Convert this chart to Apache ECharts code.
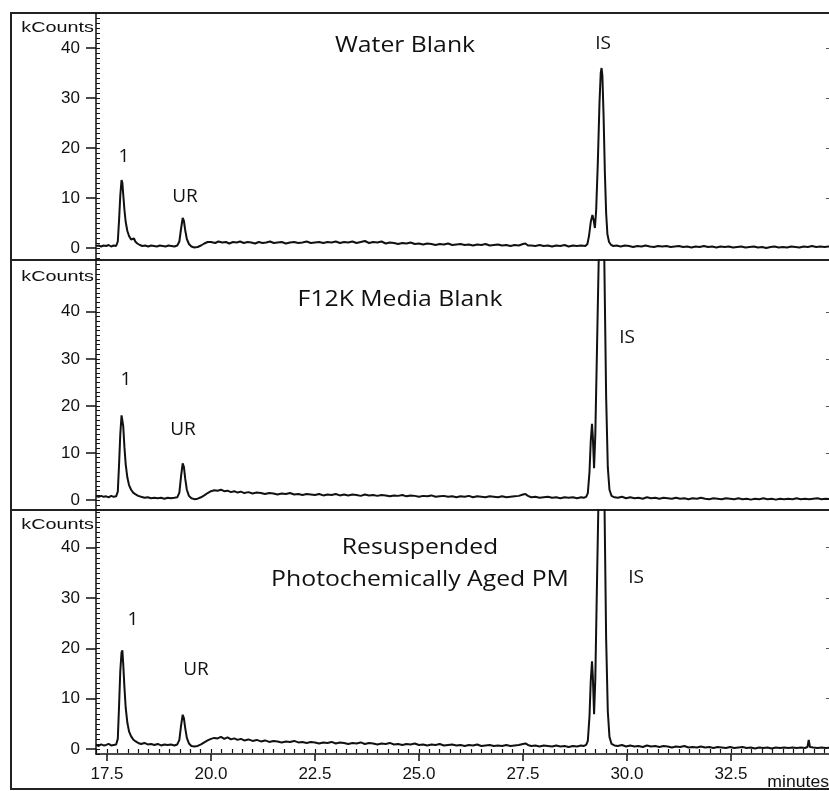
<!DOCTYPE html>
<html>
<head>
<meta charset="utf-8">
<script src="https://cdn.jsdelivr.net/npm/echarts@6/dist/echarts.min.js"></script>
<style>
  html, body { margin: 0; padding: 0; background: #fff; }
  #chart { width: 829px; height: 791px; }
</style>
</head>
<body>
<div id="chart"></div>
<script>
// retention time (minutes) vs signal (kCounts)
const waterBlank = [
  [17.24,0.4],[17.30,0.5],[17.36,0.3],[17.42,0.5],[17.48,0.4],[17.54,0.6],[17.60,0.3],[17.66,0.5],[17.72,0.4],
  [17.76,1.3],[17.79,5.5],[17.82,10.5],[17.85,13.6],[17.87,13.0],[17.89,10.8],[17.92,7.6],[17.95,5.2],[17.99,3.4],
  [18.03,2.4],[18.08,1.7],[18.12,1.5],[18.15,1.9],[18.18,1.3],[18.23,0.9],[18.29,0.6],[18.35,0.4],[18.42,0.5],
  [18.49,0.3],[18.56,0.5],[18.63,0.4],[18.70,0.3],[18.77,0.5],[18.84,0.4],[18.91,0.3],[18.98,0.5],[19.05,0.4],
  [19.12,0.3],[19.19,0.5],
  [19.24,1.3],[19.28,3.8],[19.32,6.0],[19.35,5.4],[19.38,3.6],[19.42,1.8],[19.47,0.8],[19.53,0.3],[19.60,0.1],
  [19.68,0.2],[19.76,0.5],[19.84,0.9],[19.92,1.2],
  [20.00,1.2],[20.10,1.0],[20.18,1.3],[20.27,1.1],[20.36,1.2],[20.44,0.9],[20.53,1.2],[20.62,1.1],[20.70,1.3],
  [20.79,1.0],[20.88,1.2],[20.97,1.1],[21.06,0.9],[21.15,1.2],[21.24,1.0],[21.33,1.1],[21.42,1.3],[21.51,1.0],
  [21.60,1.1],[21.70,1.2],[21.80,0.9],[21.90,1.1],[22.00,1.2],[22.10,1.0],[22.20,1.1],[22.30,1.3],[22.40,1.0],
  [22.50,1.1],[22.60,1.2],[22.70,1.0],[22.80,1.2],[22.90,1.1],[23.00,1.3],[23.10,1.0],[23.20,1.2],[23.30,1.1],
  [23.40,1.3],[23.50,1.0],[23.60,1.2],[23.70,1.4],[23.80,1.0],[23.90,1.2],[24.00,1.1],[24.10,1.3],[24.20,0.9],
  [24.30,1.1],[24.40,1.0],[24.50,0.8],[24.60,1.0],[24.70,0.9],[24.80,1.1],[24.90,0.8],[25.00,0.9],[25.10,0.7],
  [25.20,0.9],[25.30,0.8],[25.40,0.6],[25.50,0.8],[25.60,0.7],[25.70,0.9],[25.80,0.6],[25.90,0.7],[26.00,0.8],
  [26.10,0.6],[26.20,0.7],[26.30,0.5],[26.40,0.7],[26.50,0.6],[26.60,0.8],[26.70,0.5],[26.80,0.6],[26.90,0.7],
  [27.00,0.5],[27.10,0.6],[27.20,0.4],[27.30,0.6],[27.40,0.5],[27.50,0.8],[27.56,0.9],[27.62,0.5],[27.70,0.5],
  [27.80,0.4],[27.90,0.6],[28.00,0.4],[28.10,0.5],[28.20,0.3],[28.30,0.5],[28.40,0.4],[28.50,0.6],[28.60,0.3],
  [28.70,0.5],[28.80,0.4],[28.90,0.5],[29.00,0.4],
  [29.05,0.8],[29.09,2.5],[29.13,5.2],[29.17,6.6],[29.20,5.6],[29.23,4.0],[29.26,7.5],[29.30,17.0],[29.34,29.0],
  [29.37,35.0],[29.39,36.0],[29.41,34.5],[29.44,26.0],[29.47,15.0],[29.50,7.0],[29.53,2.8],[29.57,1.2],[29.62,0.6],
  [29.68,0.4],
  [29.75,0.5],[29.85,0.3],[29.95,0.5],[30.05,0.4],[30.15,0.2],[30.25,0.4],[30.35,0.3],[30.45,0.5],[30.55,0.3],
  [30.65,0.2],[30.75,0.4],[30.85,0.3],[30.95,0.4],[31.05,0.2],[31.15,0.3],[31.25,0.4],[31.35,0.2],[31.45,0.3],
  [31.55,0.1],[31.65,0.3],[31.75,0.2],[31.85,0.4],[31.95,0.2],[32.05,0.3],[32.15,0.1],[32.25,0.3],[32.35,0.2],
  [32.45,0.3],[32.55,0.1],[32.65,0.2],[32.75,0.3],[32.85,0.1],[32.95,0.2],[33.05,0.3],[33.15,0.1],[33.25,0.2],
  [33.35,0.0],[33.45,0.2],[33.55,0.3],[33.65,0.1],[33.75,0.2],[33.85,0.1],[33.95,0.3],[34.05,0.2],[34.15,0.1],
  [34.25,0.3],[34.35,0.2],[34.45,0.4],[34.55,0.2],[34.65,0.3],[34.75,0.2],[34.85,0.3],[34.93,0.2]
];

const mediaBlank = [
  [17.24,0.8],[17.30,0.7],[17.36,0.9],[17.42,0.7],[17.48,0.8],[17.54,0.6],[17.60,0.9],[17.66,0.7],[17.72,0.8],
  [17.76,1.8],[17.79,7.5],[17.82,14.0],[17.85,18.0],[17.87,18.4],[17.89,15.8],[17.92,11.2],[17.95,7.6],[17.99,4.8],
  [18.03,3.2],[18.08,2.2],[18.13,1.6],[18.19,1.2],[18.25,0.9],[18.32,0.7],[18.40,0.5],[18.48,0.6],[18.56,0.4],
  [18.64,0.5],[18.72,0.4],[18.80,0.5],[18.88,0.3],[18.96,0.5],[19.04,0.4],[19.12,0.5],[19.19,0.6],
  [19.24,1.6],[19.28,5.0],[19.32,7.8],[19.35,7.0],[19.38,4.6],[19.42,2.2],[19.47,0.9],[19.53,0.4],[19.60,0.2],
  [19.68,0.3],[19.76,0.6],[19.84,1.0],[19.92,1.5],[20.00,1.9],[20.08,2.1],[20.16,2.0],[20.24,2.2],[20.32,1.9],
  [20.40,2.0],[20.48,1.7],[20.56,1.9],[20.64,1.6],[20.72,1.8],[20.80,1.5],[20.90,1.7],[21.00,1.4],[21.10,1.6],
  [21.20,1.5],[21.30,1.3],[21.40,1.5],[21.50,1.4],[21.60,1.2],[21.70,1.4],[21.80,1.3],[21.90,1.5],[22.00,1.2],
  [22.10,1.3],[22.20,1.1],[22.30,1.3],[22.40,1.2],
  [22.50,1.1],[22.60,1.3],[22.70,1.0],[22.80,1.2],[22.90,1.1],[23.00,1.3],[23.10,1.0],[23.20,1.2],[23.30,1.0],
  [23.40,1.2],[23.50,1.1],[23.60,0.9],[23.70,1.2],[23.80,1.0],[23.90,1.1],[24.00,0.9],[24.10,1.1],[24.20,1.0],
  [24.30,0.8],[24.40,1.0],[24.50,0.9],[24.60,1.1],[24.70,0.8],[24.80,1.0],[24.90,0.9],[25.00,0.7],[25.10,0.9],
  [25.20,0.8],[25.30,1.0],[25.40,0.7],[25.50,0.8],[25.60,0.9],[25.70,0.7],[25.80,0.8],[25.90,0.6],[26.00,0.8],
  [26.10,0.7],[26.20,0.9],[26.30,0.6],[26.40,0.8],[26.50,0.7],[26.60,0.6],[26.70,0.8],[26.80,0.7],[26.90,0.6],
  [27.00,0.8],[27.10,0.6],[27.20,0.7],[27.30,0.8],[27.40,0.9],[27.50,1.2],[27.56,1.3],[27.62,0.9],[27.70,0.6],
  [27.80,0.7],[27.90,0.5],[28.00,0.6],[28.10,0.7],[28.20,0.5],[28.30,0.6],[28.40,0.4],[28.50,0.6],[28.60,0.5],
  [28.70,0.6],[28.80,0.4],[28.90,0.6],[28.96,0.5],
  [29.02,0.7],[29.06,1.5],[29.10,6.0],[29.13,12.5],[29.16,16.2],[29.18,13.5],[29.21,6.8],[29.24,14.0],[29.28,32.0],
  [29.33,55.0],[29.39,110.0],[29.45,55.0],[29.50,22.0],[29.54,7.0],[29.58,2.2],[29.63,0.9],[29.70,0.6],
  [29.78,0.5],[29.88,0.7],[29.98,0.4],[30.08,0.6],[30.18,0.4],[30.28,0.5],[30.38,0.3],[30.48,0.6],[30.58,0.4],
  [30.68,0.5],[30.78,0.3],[30.88,0.5],[30.98,0.4],[31.08,0.3],[31.18,0.5],[31.28,0.3],[31.38,0.4],[31.48,0.2],
  [31.58,0.4],[31.68,0.3],[31.78,0.5],[31.88,0.3],[31.98,0.2],[32.08,0.4],[32.18,0.3],[32.28,0.2],[32.38,0.4],
  [32.48,0.3],[32.58,0.2],[32.68,0.4],[32.78,0.2],[32.88,0.3],[32.98,0.1],[33.08,0.3],[33.18,0.2],[33.28,0.4],
  [33.38,0.2],[33.48,0.3],[33.58,0.1],[33.68,0.3],[33.78,0.2],[33.88,0.3],[33.98,0.2],[34.08,0.4],[34.18,0.2],
  [34.28,0.3],[34.38,0.2],[34.48,0.3],[34.58,0.4],[34.68,0.2],[34.78,0.3],[34.93,0.2]
];

const agedPM = [
  [17.24,0.8],[17.30,0.6],[17.36,0.9],[17.42,0.7],[17.48,0.8],[17.54,1.0],[17.60,0.7],[17.66,0.8],[17.72,0.9],
  [17.76,2.0],[17.79,8.5],[17.82,15.5],[17.85,19.2],[17.87,19.6],[17.89,17.0],[17.92,12.2],[17.95,8.2],[17.99,5.2],
  [18.03,3.5],[18.08,2.5],[18.13,1.9],[18.19,1.5],[18.25,1.2],[18.32,1.0],[18.40,1.2],[18.48,0.9],[18.56,1.0],
  [18.64,0.8],[18.72,1.0],[18.80,0.7],[18.88,0.9],[18.96,0.8],[19.04,0.9],[19.12,0.7],[19.19,0.9],
  [19.24,1.8],[19.28,4.6],[19.32,6.8],[19.35,6.1],[19.38,4.2],[19.42,2.2],[19.47,1.1],[19.53,0.6],[19.60,0.5],
  [19.68,0.6],[19.76,0.9],[19.84,1.3],[19.92,1.7],[20.00,2.0],[20.08,2.2],[20.16,2.1],[20.24,2.4],[20.32,2.0],
  [20.40,2.3],[20.48,1.9],[20.56,2.1],[20.64,1.8],[20.72,2.0],[20.80,1.7],[20.90,1.9],[21.00,1.6],[21.10,1.8],
  [21.20,1.5],[21.30,1.7],[21.40,1.4],[21.50,1.6],[21.60,1.5],[21.70,1.3],[21.80,1.5],[21.90,1.4],[22.00,1.6],
  [22.10,1.3],[22.20,1.4],[22.30,1.2],[22.40,1.4],
  [22.50,1.3],[22.60,1.1],[22.70,1.3],[22.80,1.2],[22.90,1.4],[23.00,1.1],[23.10,1.3],[23.20,1.2],[23.30,1.0],
  [23.40,1.2],[23.50,1.1],[23.60,1.3],[23.70,1.0],[23.80,1.2],[23.90,1.1],[24.00,0.9],[24.10,1.1],[24.20,1.0],
  [24.30,1.2],[24.40,0.9],[24.50,1.0],[24.60,0.8],[24.70,1.0],[24.80,0.9],[24.90,1.1],[25.00,0.8],[25.10,0.9],
  [25.20,0.7],[25.30,0.9],[25.40,0.8],[25.50,1.0],[25.60,0.7],[25.70,0.8],[25.80,0.9],[25.90,0.7],[26.00,0.8],
  [26.10,0.6],[26.20,0.8],[26.30,0.7],[26.40,0.9],[26.50,0.6],[26.60,0.7],[26.70,0.8],[26.80,0.6],[26.90,0.7],
  [27.00,0.6],[27.10,0.8],[27.20,0.6],[27.30,0.7],[27.40,0.8],[27.50,1.0],[27.56,1.1],[27.62,0.8],[27.70,0.6],
  [27.80,0.7],[27.90,0.5],[28.00,0.7],[28.10,0.6],[28.20,0.5],[28.30,0.7],[28.40,0.5],[28.50,0.6],[28.60,0.4],
  [28.70,0.6],[28.80,0.5],[28.90,0.7],[28.96,0.6],
  [29.02,0.8],[29.06,1.6],[29.10,6.5],[29.13,13.5],[29.16,17.4],[29.18,14.5],[29.21,6.9],[29.24,14.0],[29.28,33.0],
  [29.33,56.0],[29.39,115.0],[29.45,56.0],[29.50,22.0],[29.54,7.5],[29.58,2.4],[29.63,1.0],[29.70,0.7],
  [29.78,0.6],[29.88,0.8],[29.98,0.5],[30.08,0.7],[30.18,0.5],[30.28,0.6],[30.38,0.4],[30.48,0.7],[30.58,0.5],
  [30.68,0.6],[30.78,0.4],[30.88,0.6],[30.98,0.5],[31.08,0.3],[31.18,0.5],[31.28,0.4],[31.38,0.6],[31.48,0.3],
  [31.58,0.4],[31.68,0.3],[31.78,0.5],[31.88,0.3],[31.98,0.4],[32.08,0.2],[32.18,0.4],[32.28,0.3],[32.38,0.2],
  [32.48,0.4],[32.58,0.2],[32.68,0.3],[32.78,0.4],[32.88,0.2],[32.98,0.3],[33.08,0.1],[33.18,0.3],[33.28,0.2],
  [33.38,0.3],[33.48,0.1],[33.58,0.3],[33.68,0.2],[33.78,0.3],[33.88,0.2],[33.98,0.3],[34.08,0.2],[34.18,0.3],
  [34.28,0.2],[34.34,0.4],[34.37,1.8],[34.40,0.4],[34.48,0.3],[34.58,0.2],[34.68,0.3],[34.78,0.2],[34.93,0.3]
];

const traces = [waterBlank, mediaBlank, agedPM];
const panelTitles = [['Water Blank'], ['F12K Media Blank'], ['Resuspended', 'Photochemically Aged PM']];
const peakNames = ['1', 'UR', 'IS'];
const xTicks = [17.5, 20.0, 22.5, 25.0, 27.5, 30.0, 32.5];
const xMinorTicks = [17.25,17.5,17.75,18,18.25,18.5,18.75,19,19.25,19.5,19.75,20,20.25,20.5,20.75,21,21.25,21.5,21.75,
  22,22.25,22.5,22.75,23,23.25,23.5,23.75,24,24.25,24.5,24.75,25,25.25,25.5,25.75,26,26.25,26.5,26.75,27,27.25,27.5,
  27.75,28,28.25,28.5,28.75,29,29.25,29.5,29.75,30,30.25,30.5,30.75,31,31.25,31.5,31.75,32,32.25,32.5,32.75,33,33.25,
  33.5,33.75,34,34.25,34.5,34.75];
const yTicks = [0, 10, 20, 30, 40];
const yMinorTicks = [-2,-1,0,1,2,3,4,5,6,7,8,9,10,11,12,13,14,15,16,17,18,19,20,21,22,23,24,25,26,27,28,29,30,
  31,32,33,34,35,36,37,38,39,40,41,42,43,44,45,46,47,48,49,50];
const yRightTicks = [10, 20, 30, 40];

// layout of the three stacked panels
const panels = [
  { top: 13, height: 247, yMin: -2.4, yMax: 47.0 },
  { top: 260, height: 250, yMin: -2.1, yMax: 51.0 },
  { top: 510, height: 244, yMin: -1.0, yMax: 47.5 }
];
const xMin = 17.236, xMax = 34.93;
const ink = '#111';
const axisFont = 'Liberation Sans';
const textFont = 'Open Sans';
const blank = function () { return ''; };

let myChart = echarts.init(document.getElementById('chart'), null, { renderer: 'canvas' });

let grids = [], xAxes = [], yAxes = [], series = [];
panels.forEach(function (p, i) {
  grids.push({ left: 96, top: p.top, width: 736, height: p.height, show: false, containLabel: false, outerBoundsMode: 'none' });
  let last = i === panels.length - 1;
  xAxes.push({
    type: 'value', gridIndex: i, min: xMin, max: xMax, position: 'bottom',
    axisLine: { show: last, onZero: false, lineStyle: { color: ink, width: 1.5 } },
    axisTick: { show: last, customValues: xTicks, length: 7, lineStyle: { color: ink, width: 1.5 } },
    axisLabel: {
      show: last, customValues: xTicks, margin: 12, color: ink,
      fontFamily: axisFont, fontSize: 17, formatter: function (v) { return v.toFixed(1); }
    },
    splitLine: { show: false }
  });
  // main y axis: labels and outward ticks
  yAxes.push({
    type: 'value', gridIndex: i, min: p.yMin, max: p.yMax, position: 'left',
    axisLine: { show: true, onZero: false, lineStyle: { color: ink, width: 1.5 } },
    axisTick: { show: true, customValues: yTicks, length: 10, lineStyle: { color: ink, width: 1.5 } },
    axisLabel: { customValues: yTicks, margin: 16, color: ink, fontFamily: axisFont, fontSize: 17 },
    splitLine: { show: false }
  });
  // minor inward ticks on the left axis
  yAxes.push({
    type: 'value', gridIndex: i, min: p.yMin, max: p.yMax, position: 'left',
    axisLine: { show: false },
    axisTick: { show: true, inside: true, customValues: yMinorTicks, length: 4, lineStyle: { color: ink, width: 1 } },
    axisLabel: { show: true, customValues: yMinorTicks, formatter: blank },
    splitLine: { show: false }
  });
  // right edge ticks
  yAxes.push({
    type: 'value', gridIndex: i, min: p.yMin, max: p.yMax, position: 'right',
    axisLine: { show: false },
    axisTick: { show: true, inside: true, customValues: yRightTicks, length: 6, lineStyle: { color: '#555', width: 1 } },
    axisLabel: { show: true, customValues: yRightTicks, formatter: blank },
    splitLine: { show: false }
  });
  series.push({
    type: 'line', xAxisIndex: i, yAxisIndex: i * 3, data: traces[i],
    showSymbol: false, clip: true, silent: true,
    lineStyle: { color: ink, width: 2 }
  });
});
// minor ticks on the bottom time axis
xAxes.push({
  type: 'value', gridIndex: 2, min: xMin, max: xMax, position: 'bottom',
  axisLine: { show: false },
  axisTick: { show: true, customValues: xMinorTicks, length: 4, lineStyle: { color: ink, width: 1.2 } },
  axisLabel: { show: true, customValues: xMinorTicks, formatter: blank },
  splitLine: { show: false }
});

function txt(x, y, s, size, font, align, sx) {
  return {
    type: 'text', x: x, y: y, scaleX: sx || 1, silent: true,
    style: {
      text: s, fill: ink, font: size + 'px "' + font + '"',
      textAlign: align || 'center', textVerticalAlign: 'middle'
    }
  };
}

let graphics = [
  { type: 'rect', shape: { x: 11, y: 13, width: 840, height: 776 }, style: { fill: 'none', stroke: '#222', lineWidth: 2 }, silent: true },
  { type: 'line', shape: { x1: 11, y1: 260, x2: 840, y2: 260 }, style: { stroke: '#222', lineWidth: 2 }, silent: true },
  { type: 'line', shape: { x1: 11, y1: 510, x2: 840, y2: 510 }, style: { stroke: '#222', lineWidth: 2 }, silent: true },
  txt(94, 28, 'kCounts', 15, axisFont, 'right', 1.32),
  txt(94, 277, 'kCounts', 15, axisFont, 'right', 1.32),
  txt(94, 525, 'kCounts', 15, axisFont, 'right', 1.32),
  txt(405, 46, panelTitles[0][0], 21, textFont, 'center', 1.18),
  txt(400, 300, panelTitles[1][0], 21, textFont, 'center', 1.18),
  txt(420, 548, panelTitles[2][0], 21, textFont, 'center', 1.18),
  txt(420, 580, panelTitles[2][1], 21, textFont, 'center', 1.18),
  txt(124, 157, peakNames[0], 19, textFont),
  txt(185, 197, peakNames[1], 19, textFont),
  txt(603, 44, peakNames[2], 19, textFont),
  txt(126, 380, peakNames[0], 19, textFont),
  txt(183, 430, peakNames[1], 19, textFont),
  txt(627, 338, peakNames[2], 19, textFont),
  txt(133, 620, peakNames[0], 19, textFont),
  txt(196, 670, peakNames[1], 19, textFont),
  txt(636, 578, peakNames[2], 19, textFont),
  txt(829, 783, 'minutes', 16, axisFont, 'right', 1.1)
];

myChart.setOption({
  animation: false,
  backgroundColor: '#fff',
  grid: grids,
  xAxis: xAxes,
  yAxis: yAxes,
  series: series,
  graphic: graphics
});
</script>
</body>
</html>
